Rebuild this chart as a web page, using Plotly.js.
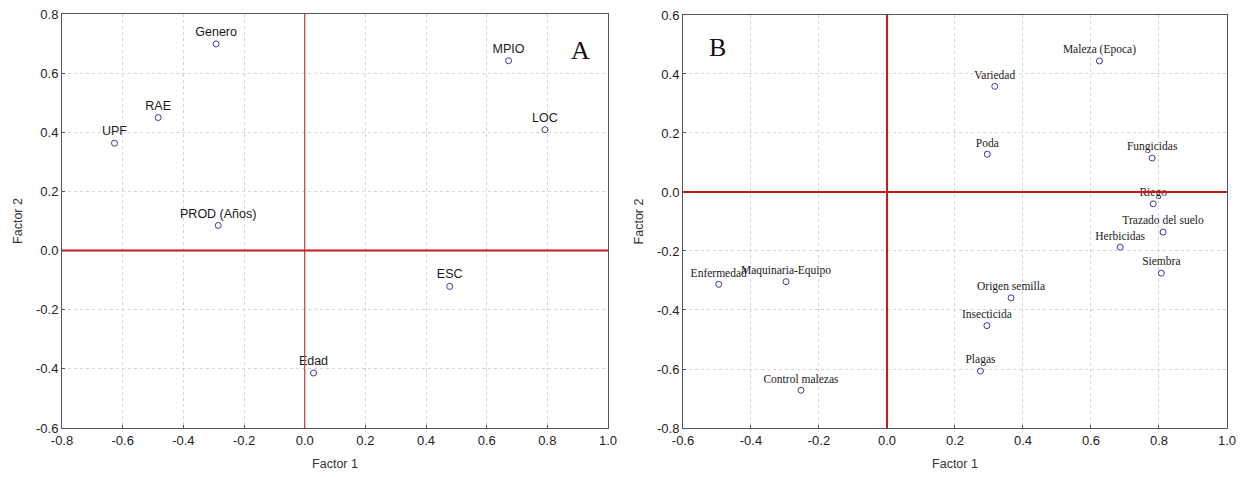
<!DOCTYPE html>
<html>
<head>
<meta charset="utf-8">
<script src="https://cdn.plot.ly/plotly-3.0.1.min.js"></script>
<style>html,body{margin:0;padding:0;background:#fff;}#chart{width:1245px;height:477px;}</style>
</head>
<body>
<div id="chart"></div>
<script>
// Panel A
const labelsA = ["Genero", "MPIO", "RAE", "UPF", "LOC", "PROD (Años)", "ESC", "Edad"];
const factor1A = [-0.292, 0.672, -0.483, -0.627, 0.792, -0.285, 0.478, 0.029];
const factor2A = [0.699, 0.642, 0.450, 0.363, 0.409, 0.085, -0.121, -0.414];

// Panel B
const labelsB = ["Maleza (Epoca)", "Variedad", "Poda", "Fungicidas", "Riego", "Trazado del suelo",
  "Herbicidas", "Siembra", "Enfermedad", "Maquinaria-Equipo", "Origen semilla", "Insecticida",
  "Plagas", "Control malezas"];
const factor1B = [0.625, 0.317, 0.295, 0.780, 0.783, 0.812, 0.686, 0.807, -0.495, -0.297, 0.365, 0.294, 0.275, -0.253];
const factor2B = [0.444, 0.358, 0.128, 0.115, -0.040, -0.136, -0.187, -0.275, -0.313, -0.304, -0.359, -0.453, -0.607, -0.672];

const ticksAx = [-0.8, -0.6, -0.4, -0.2, 0.0, 0.2, 0.4, 0.6, 0.8, 1.0];
const ticksAy = [-0.6, -0.4, -0.2, 0.0, 0.2, 0.4, 0.6, 0.8];
const ticksBx = [-0.6, -0.4, -0.2, 0.0, 0.2, 0.4, 0.6, 0.8, 1.0];
const ticksBy = [-0.8, -0.6, -0.4, -0.2, 0.0, 0.2, 0.4, 0.6];

const markerStyle = {symbol: "circle-open", size: 6, color: "#3838a8", line: {width: 1}};

const traces = [
  {x: factor1A, y: factor2A, text: labelsA, mode: "markers+text", type: "scatter",
   textposition: "top center", cliponaxis: false,
   textfont: {family: "Liberation Sans, Arial, sans-serif", size: 12.5, color: "#1a1a1a"},
   marker: markerStyle, xaxis: "x", yaxis: "y", hoverinfo: "text"},
  {x: factor1B, y: factor2B, text: labelsB, mode: "markers+text", type: "scatter",
   textposition: "top center", cliponaxis: false,
   textfont: {family: "Liberation Serif, Times New Roman, serif", size: 11.5, color: "#1a1a1a"},
   marker: markerStyle, xaxis: "x2", yaxis: "y2", hoverinfo: "text"}
];

const tickFont = {family: "Liberation Sans, Arial, sans-serif", size: 13, color: "#222"};
const titleFont = {family: "Liberation Sans, Arial, sans-serif", size: 12.5, color: "#333"};
function fmt(v){ return v.toFixed(1); }
function axis(range, ticks, domain, anchor, title, standoff){
  return {
    range: range, domain: domain, anchor: anchor,
    tickmode: "array", tickvals: ticks, ticktext: ticks.map(fmt),
    tickfont: tickFont, ticks: "inside", ticklen: 3, tickcolor: "#555",
    showgrid: true, gridcolor: "#d4d4d4", griddash: "dot", gridwidth: 1,
    zeroline: false, showline: true, mirror: true, linecolor: "#555", linewidth: 1,
    title: {text: title, font: titleFont, standoff: standoff},
    fixedrange: true
  };
}

const layout = {
  width: 1245, height: 477,
  margin: {l: 0, r: 0, t: 0, b: 0},
  paper_bgcolor: "#fff", plot_bgcolor: "#fff",
  showlegend: false,
  xaxis: axis([-0.8, 1.0], ticksAx, [0.0498, 0.4884], "y", "Factor 1", 12),
  yaxis: axis([-0.6, 0.8], ticksAy, [0.1027, 0.9706], "x", "Factor 2", 10),
  xaxis2: axis([-0.6, 1.0], ticksBx, [0.5486, 0.9855], "y2", "Factor 1", 12),
  yaxis2: axis([-0.8, 0.6], ticksBy, [0.1027, 0.9686], "x2", "Factor 2", 10),
  shapes: [
    {type: "line", xref: "x", yref: "y", x0: 0, x1: 0, y0: -0.6, y1: 0.8, line: {color: "#d04848", width: 1.3}},
    {type: "line", xref: "x", yref: "y", x0: -0.8, x1: 1.0, y0: 0, y1: 0, line: {color: "#c81818", width: 2}},
    {type: "line", xref: "x2", yref: "y2", x0: 0, x1: 0, y0: -0.8, y1: 0.6, line: {color: "#c81818", width: 2}},
    {type: "line", xref: "x2", yref: "y2", x0: -0.6, x1: 1.0, y0: 0, y1: 0, line: {color: "#c81818", width: 2}}
  ],
  annotations: [
    {text: "A", xref: "x", yref: "y", x: 0.91, y: 0.675, showarrow: false,
     font: {family: "Liberation Serif, Times New Roman, serif", size: 26, color: "#111"}},
    {text: "B", xref: "x2", yref: "y2", x: -0.5, y: 0.49, showarrow: false,
     font: {family: "Liberation Serif, Times New Roman, serif", size: 26, color: "#111"}}
  ]
};

Plotly.newPlot("chart", traces, layout, {displayModeBar: false, staticPlot: true});
</script>
</body>
</html>
